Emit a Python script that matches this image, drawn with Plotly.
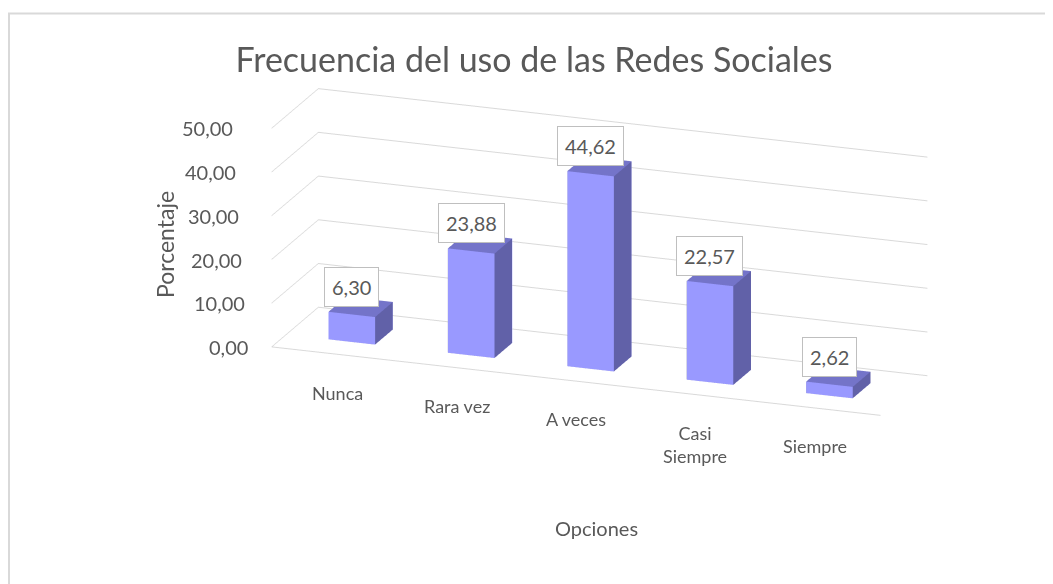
import math
import plotly.graph_objects as go

categories = ["Nunca", "Rara vez", "A veces", "Casi Siempre", "Siempre"]
category_labels = ["Nunca", "Rara vez", "A veces", "Casi<br>Siempre", "Siempre"]
values = [6.30, 23.88, 44.62, 22.57, 2.62]
value_labels = ["6,30", "23,88", "44,62", "22,57", "2,62"]
z_ticks = [0, 10, 20, 30, 40, 50]
z_tick_labels = ["0,00", "10,00", "20,00", "30,00", "40,00", "50,00"]

title_text = "Frecuencia del uso de las Redes Sociales"
y_title = "Porcentaje"
x_title = "Opciones"

FONT = "Lato"
TXT = "#595959"
FRONT = "#9999FF"
SIDE = "#6161A8"
TOP = "#7474C9"
GRID = "#d9d9d9"

# page has an 8px body margin; figure is sized so it fits the window
OFF = 8
W, H = 1053 - OFF, 584 - OFF


def px(x):
    return (x - OFF) / W


def py(y):
    return 1 - (y - OFF) / H


X_MIN, X_MAX = -0.55, 4.55
half_w = 0.195
y0, y1 = 0.31, 0.69

xs, ys, zs, I, J, K, fc = [], [], [], [], [], [], []
for idx, v in enumerate(values):
    base = len(xs)
    xa, xb = idx - half_w, idx + half_w
    verts = [(xa, y0, 0), (xb, y0, 0), (xb, y1, 0), (xa, y1, 0),
             (xa, y0, v), (xb, y0, v), (xb, y1, v), (xa, y1, v)]
    for p in verts:
        xs.append(p[0]); ys.append(p[1]); zs.append(p[2])
    faces = [
        ((0, 1, 5), FRONT), ((0, 5, 4), FRONT),   # front
        ((1, 2, 6), SIDE), ((1, 6, 5), SIDE),     # right
        ((4, 5, 6), TOP), ((4, 6, 7), TOP),       # top
        ((0, 3, 7), SIDE), ((0, 7, 4), SIDE),     # left
        ((3, 2, 6), FRONT), ((3, 6, 7), FRONT),   # back
        ((0, 1, 2), TOP), ((0, 2, 3), TOP),       # bottom
    ]
    for (a, b, c), col in faces:
        I.append(base + a); J.append(base + b); K.append(base + c); fc.append(col)

fig = go.Figure()
fig.add_trace(go.Mesh3d(
    x=xs, y=ys, z=zs, i=I, j=J, k=K, facecolor=fc, flatshading=True,
    lighting=dict(ambient=1, diffuse=0, specular=0, fresnel=0, roughness=1),
    hoverinfo="skip", showscale=False,
))
# floor front edge
fig.add_trace(go.Scatter3d(
    x=[X_MIN, X_MAX], y=[0, 0], z=[0, 0], mode="lines",
    line=dict(color=GRID, width=2), hoverinfo="skip", showlegend=False,
))

annotations3d = []
for idx, v in enumerate(values):
    annotations3d.append(dict(
        x=idx, y=y0, z=v, text=value_labels[idx], showarrow=False,
        yanchor="bottom", yshift=8,
        font=dict(family=FONT, size=20, color=TXT),
        bgcolor="white", bordercolor="#bfbfbf", borderwidth=1, borderpad=7,
    ))
for idx, lab in enumerate(category_labels):
    annotations3d.append(dict(
        x=idx, y=0, z=0, text=lab, showarrow=False,
        yanchor="top", yshift=-25,
        font=dict(family=FONT, size=18, color=TXT),
    ))
for t, lab in zip(z_ticks, z_tick_labels):
    annotations3d.append(dict(
        x=X_MIN, y=0, z=t, text=lab, showarrow=False,
        xanchor="right", xshift=-22 - 0.3 * t,
        font=dict(family=FONT, size=20, color=TXT),
    ))

axis_off = dict(showgrid=False, showticklabels=False, zeroline=False,
                showline=False, ticks="", showspikes=False, title=dict(text=""),
                showbackground=False)

theta = math.radians(20)
phi = math.radians(18)
R = 2.0
eye = dict(x=R * math.sin(theta) * math.cos(phi),
           y=-R * math.cos(theta) * math.cos(phi),
           z=R * math.sin(phi))

fig.update_layout(
    width=W, height=H,
    margin=dict(l=0, r=0, t=0, b=0),
    paper_bgcolor="white",
    showlegend=False,
    title=dict(text=title_text, x=px(534), xanchor="center", y=py(60), yanchor="middle",
               font=dict(family=FONT, size=34, color=TXT)),
    scene=dict(
        domain=dict(x=[0.138, 0.994], y=[0.152, 1.0]),
        xaxis=dict(axis_off, range=[X_MIN, X_MAX]),
        yaxis=dict(axis_off, range=[0, 1]),
        zaxis=dict(range=[0, 50], tickvals=z_ticks,
                   showgrid=True, gridcolor=GRID, gridwidth=2,
                   showticklabels=False,
                   zeroline=False, showline=False, ticks="", showspikes=False,
                   showbackground=False, title=dict(text="")),
        aspectmode="manual",
        aspectratio=dict(x=2.656, y=0.56, z=0.942),
        camera=dict(eye=eye, center=dict(x=0, y=0, z=0),
                    projection=dict(type="orthographic")),
        annotations=annotations3d,
    ),
    annotations=[
        dict(text=y_title, textangle=-90, x=px(165), y=py(245), xref="paper", yref="paper",
             xanchor="center", yanchor="middle",
             showarrow=False, font=dict(family=FONT, size=23, color=TXT)),
        dict(text=x_title, x=px(596), y=py(528), xref="paper", yref="paper",
             xanchor="center", yanchor="middle",
             showarrow=False, font=dict(family=FONT, size=20, color=TXT)),
    ],
)

fig.add_shape(type="rect", xref="paper", yref="paper",
              x0=1 / W, x1=1.05, y0=-0.05, y1=py(13.5),
              line=dict(color=GRID, width=2), fillcolor="rgba(0,0,0,0)")

fig.write_html("out.html")
